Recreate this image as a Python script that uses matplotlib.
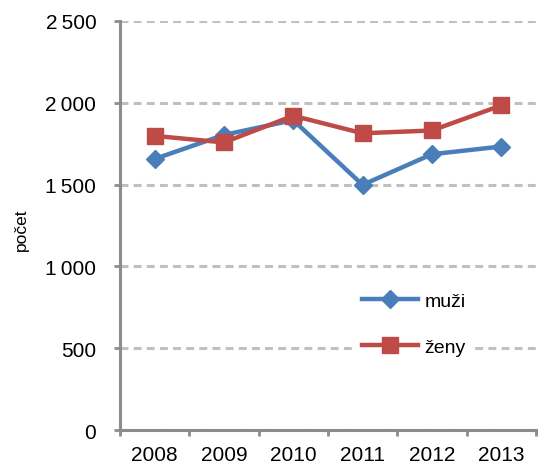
import matplotlib
matplotlib.use('Agg')
from matplotlib import pyplot as plt
from matplotlib.ticker import FixedLocator, FuncFormatter
import numpy as np

plt.rcParams['font.family'] = ['Liberation Sans', 'DejaVu Sans']

years = ['2008', '2009', '2010', '2011', '2012', '2013']
muzi = [1656, 1803, 1893, 1498, 1685, 1732]
zeny = [1797, 1757, 1920, 1813, 1830, 1983]

blue = '#4a7ebb'
red = '#be4b48'
axis_gray = '#8c8c8c'
grid_gray = '#c0c0c0'

fig = plt.figure(figsize=(5.38, 4.64), dpi=100)
ax = fig.add_axes([0.223, 0.071, 0.773, 0.882])

x = np.arange(len(years))
ax.plot(x, muzi, color=blue, lw=3.2, marker='D', ms=9, label='muži', zorder=3)
ax.plot(x, zeny, color=red, lw=3.2, marker='s', ms=11, label='ženy', zorder=4)

ax.set_xlim(-0.5, len(years) - 0.5)
ax.set_ylim(0, 2500)

ax.set_xticks(x)
ax.set_xticklabels(years, fontsize=15)
ax.tick_params(axis='x', which='major', length=0, pad=11)
ax.xaxis.set_minor_locator(FixedLocator(np.arange(-0.5, len(years), 1.0)))
ax.tick_params(axis='x', which='minor', length=4, width=2, color=axis_gray)

ax.set_yticks(np.arange(0, 2501, 500))
ax.yaxis.set_major_formatter(FuncFormatter(lambda v, p: f'{int(v):,}'.replace(',', '\u2009')))
ax.tick_params(axis='y', length=4, width=2, color=axis_gray, labelsize=15, pad=13)

ax.grid(axis='y', color=grid_gray, lw=2.2, ls=(0, (2.6, 1.7)))
ax.set_axisbelow(True)

for s in ['top', 'right']:
    ax.spines[s].set_visible(False)
for s in ['left', 'bottom']:
    ax.spines[s].set_color(axis_gray)
    ax.spines[s].set_linewidth(2.2)

fig.text(0.04, 0.504, 'počet', rotation=90, fontsize=12.5, ha='center', va='center')

leg = ax.legend(loc='center left', bbox_to_anchor=(0.54, 0.259), frameon=True,
                fontsize=14, handlelength=2.9, labelspacing=1.45, handletextpad=0.3,
                borderpad=0.4, framealpha=1)
leg.get_frame().set_edgecolor('none')
leg.get_frame().set_facecolor('white')

fig.savefig('out.png', dpi=100)
